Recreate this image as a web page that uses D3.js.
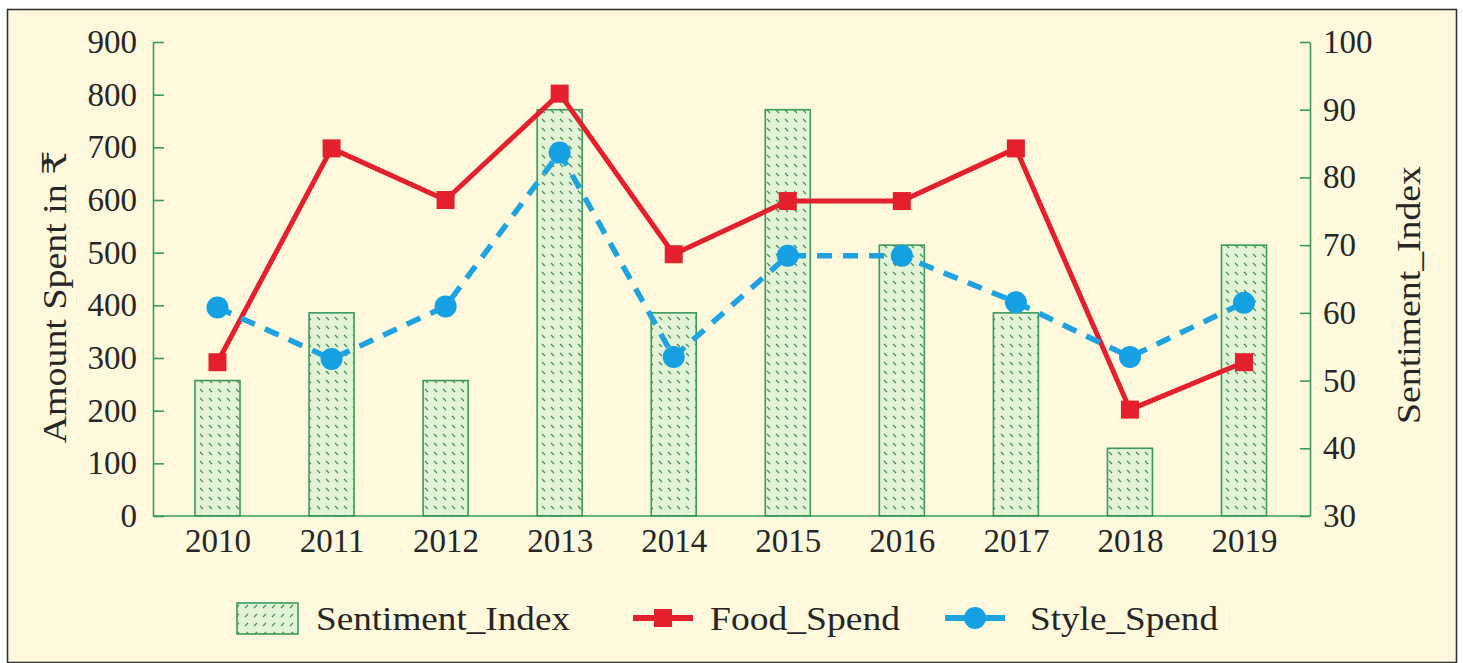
<!DOCTYPE html>
<html><head><meta charset="utf-8">
<script src="https://cdn.jsdelivr.net/npm/d3@7"></script>
<style>html,body{margin:0;padding:0;background:#fff;}svg{display:block;}</style>
</head><body>
<svg id="chart" width="1463" height="663"></svg>
<script>
const years = ["2010","2011","2012","2013","2014","2015","2016","2017","2018","2019"];
const sentimentIndex = [50, 60, 50, 90, 60, 90, 70, 60, 40, 70];
const foodSpend = [292, 698, 600, 802, 497, 598, 598, 698, 202, 292];
const styleSpend = [396, 298, 398, 690, 302, 494, 494, 406, 302, 405];
const leftTicks = [0,100,200,300,400,500,600,700,800,900];
const rightTicks = [30,40,50,60,70,80,90,100];

const FONT = "'Liberation Serif', 'DejaVu Serif', serif";
const GREEN = "#3a9a5c";
const TEXT = "#262626";
const svg = d3.select("#chart");

// background & border
svg.append("rect").attr("x",7.5).attr("y",9.5).attr("width",1449).attr("height",653)
  .attr("fill","#fef9dc").attr("stroke","#333").attr("stroke-width",1.6);

// hatch patterns
const defs = svg.append("defs");
function hatch(id, dir){
  const p = defs.append("pattern").attr("id",id).attr("patternUnits","userSpaceOnUse")
    .attr("width",9).attr("height",9);
  p.append("rect").attr("width",9).attr("height",9).attr("fill","#e3f3d6");
  if(dir>0){
    p.append("line").attr("x1",2).attr("y1",2).attr("x2",5).attr("y2",5)
      .attr("stroke","#3d8a4e").attr("stroke-width",1.1);
  } else {
    p.append("line").attr("x1",5).attr("y1",2).attr("x2",2).attr("y2",5)
      .attr("stroke","#3d8a4e").attr("stroke-width",1.1);
  }
}
hatch("hatchBar", 1);
hatch("hatchLeg", -1);

const yTop = 42, yBot = 516;
const xc = d3.scalePoint().domain(years).range([217.5, 1244]);
const yL = d3.scaleLinear().domain([0,900]).range([yBot, yTop]);
const yR = d3.scaleLinear().domain([30,100]).range([yBot, yTop]);
const barW = 45;

// bars
svg.append("g").selectAll("rect").data(years).join("rect")
  .attr("x", d => xc(d) - barW/2)
  .attr("y", (d,i) => yR(sentimentIndex[i]))
  .attr("width", barW)
  .attr("height", (d,i) => yBot - yR(sentimentIndex[i]))
  .attr("fill","url(#hatchBar)").attr("stroke",GREEN).attr("stroke-width",1.6);

// axes
const axL = svg.append("g").attr("transform","translate(153,0)")
  .call(d3.axisLeft(yL).tickValues(leftTicks).tickSize(-11).tickPadding(16).tickSizeOuter(0));
const axR = svg.append("g").attr("transform","translate(1310,0)")
  .call(d3.axisRight(yR).tickValues(rightTicks).tickSize(-10).tickPadding(13).tickSizeOuter(0));
const axB = svg.append("g").attr("transform",`translate(0,${yBot})`)
  .call(d3.axisBottom(xc).tickSize(0).tickPadding(13));
axB.select(".domain").attr("d", `M153,0H1310`);
[axL, axR, axB].forEach(a => {
  a.select(".domain").attr("stroke",GREEN).attr("stroke-width",1.6);
  a.selectAll(".tick line").attr("stroke",GREEN).attr("stroke-width",1.6);
  a.selectAll(".tick text").attr("fill",TEXT).style("font-family",FONT).style("font-size","33px");
});
axB.selectAll(".tick text").attr("dy","0.71em");

// axis titles
function label(sel, len){
  sel.attr("fill",TEXT).style("font-family",FONT).style("font-size","33px")
    .attr("textLength",len).attr("lengthAdjust","spacingAndGlyphs");
  return sel;
}
label(svg.append("text").attr("transform","translate(66,297) rotate(-90)")
  .attr("text-anchor","middle").text("Amount Spent in ₹"), 293);
label(svg.append("text").attr("transform","translate(1420,295) rotate(-90)")
  .attr("text-anchor","middle").text("Sentiment_Index"), 258);

// lines
const lineGen = d3.line().x((d,i)=>xc(years[i])).y(d=>yL(d));
svg.append("path").datum(foodSpend).attr("d",lineGen).attr("fill","none")
  .attr("stroke","#e3202c").attr("stroke-width",5).attr("stroke-linejoin","round");
svg.append("path").datum(styleSpend).attr("d",lineGen).attr("fill","none")
  .attr("stroke","#1ea3e0").attr("stroke-width",5.5).attr("stroke-dasharray","15,11");
// markers
svg.append("g").selectAll("rect").data(foodSpend).join("rect")
  .attr("x",(d,i)=>xc(years[i])-9).attr("y",d=>yL(d)-9).attr("width",18).attr("height",18)
  .attr("fill","#e3202c");
svg.append("g").selectAll("circle").data(styleSpend).join("circle")
  .attr("cx",(d,i)=>xc(years[i])).attr("cy",d=>yL(d)).attr("r",11)
  .attr("fill","#15a0e4");

// legend
const lg = svg.append("g");
const ly = 618;
lg.append("rect").attr("x",237).attr("y",603).attr("width",61).attr("height",31)
  .attr("fill","url(#hatchLeg)").attr("stroke",GREEN).attr("stroke-width",1.6);
label(lg.append("text").attr("x",316).attr("y",ly).attr("dy","0.35em").text("Sentiment_Index"), 254);
lg.append("line").attr("x1",633).attr("x2",693).attr("y1",ly).attr("y2",ly)
  .attr("stroke","#e3202c").attr("stroke-width",6);
lg.append("rect").attr("x",654).attr("y",ly-9).attr("width",18).attr("height",18).attr("fill","#e3202c");
label(lg.append("text").attr("x",710).attr("y",ly).attr("dy","0.35em").text("Food_Spend"), 190);
lg.append("line").attr("x1",945).attr("x2",1005).attr("y1",ly).attr("y2",ly)
  .attr("stroke","#1ea3e0").attr("stroke-width",6);
lg.append("circle").attr("cx",975).attr("cy",ly).attr("r",11).attr("fill","#15a0e4");
label(lg.append("text").attr("x",1030).attr("y",ly).attr("dy","0.35em").text("Style_Spend"), 188);
</script>
</body></html>
